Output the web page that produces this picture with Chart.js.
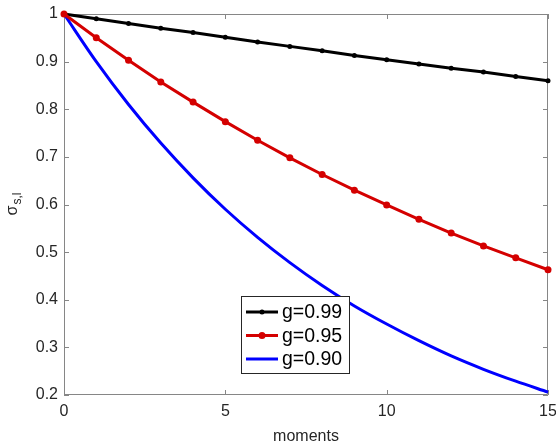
<!DOCTYPE html>
<html>
<head>
<meta charset="utf-8">
<script src="https://cdn.jsdelivr.net/npm/chart.js@4.4.1/dist/chart.umd.min.js"></script>
<style>
  html, body { margin: 0; padding: 0; background: #fff; }
  #wrap { width: 556px; height: 446px; }
</style>
</head>
<body>
<div id="wrap"><canvas id="chart" width="556" height="446"></canvas></div>
<script>
// values
const moments = [0, 1, 2, 3, 4, 5, 6, 7, 8, 9, 10, 11, 12, 13, 14, 15];
const g099 = [1, 0.990, 0.980, 0.970, 0.961, 0.951, 0.941, 0.932, 0.923, 0.913, 0.904, 0.895, 0.886, 0.878, 0.869, 0.860];
const g095 = [1, 0.950, 0.903, 0.857, 0.815, 0.774, 0.735, 0.698, 0.663, 0.630, 0.599, 0.569, 0.540, 0.513, 0.488, 0.463];
const g090 = [1, 0.900, 0.810, 0.729, 0.656, 0.590, 0.531, 0.478, 0.430, 0.387, 0.349, 0.314, 0.282, 0.254, 0.229, 0.206];
const seriesLabels = ["g=0.99", "g=0.95", "g=0.90"];
const xTicks = [0, 5, 10, 15];
const yTicks = [0.2, 0.3, 0.4, 0.5, 0.6, 0.7, 0.8, 0.9, 1];

const FONT = "'Liberation Sans', Arial, Helvetica, sans-serif";
const AXIS = "#868686";

function toPoints(ys) {
  return ys.map((y, i) => ({ x: moments[i], y: y }));
}

// box, inward ticks, y label and legend like the matlab figure
const matlabFrame = {
  id: "matlabFrame",
  beforeDatasetsDraw(chart) {
    const ctx = chart.ctx;
    const a = chart.chartArea;
    const xs = chart.scales.x, ys = chart.scales.y;
    ctx.save();
    ctx.strokeStyle = AXIS;
    ctx.lineWidth = 1;
    ctx.beginPath();
    ctx.rect(a.left + 0.5, a.top + 0.5, a.right - a.left - 1, a.bottom - a.top - 1);
    xTicks.forEach(v => {
      const px = Math.round(xs.getPixelForValue(v)) + 0.5;
      ctx.moveTo(px, a.bottom); ctx.lineTo(px, a.bottom - 5);
      ctx.moveTo(px, a.top); ctx.lineTo(px, a.top + 5);
    });
    yTicks.forEach(v => {
      const py = Math.round(ys.getPixelForValue(v)) + 0.5;
      ctx.moveTo(a.left, py); ctx.lineTo(a.left + 5, py);
      ctx.moveTo(a.right, py); ctx.lineTo(a.right - 5, py);
    });
    ctx.stroke();
    ctx.restore();
  },
  afterDraw(chart) {
    const ctx = chart.ctx;
    const a = chart.chartArea;
    ctx.save();
    // y axis title: sigma with subscript s,l
    ctx.translate(17, (a.top + a.bottom) / 2);
    ctx.rotate(-Math.PI / 2);
    ctx.fillStyle = "#262626";
    ctx.textBaseline = "alphabetic";
    ctx.font = "16px " + FONT;
    ctx.textAlign = "left";
    const sw = ctx.measureText("\u03c3").width;
    ctx.font = "12px " + FONT;
    const subw = ctx.measureText("s,l").width;
    const start = -(sw + subw) / 2;
    ctx.font = "16px " + FONT;
    ctx.fillText("\u03c3", start, 0);
    ctx.font = "12px " + FONT;
    ctx.fillText("s,l", start + sw + 1, 4);
    ctx.restore();

    // legend box
    const lx = 241, ly = 296, lw = 108, lh = 77;
    ctx.save();
    ctx.fillStyle = "#fff";
    ctx.fillRect(lx, ly, lw, lh);
    ctx.strokeStyle = "#262626";
    ctx.lineWidth = 1;
    ctx.strokeRect(lx + 0.5, ly + 0.5, lw, lh);
    chart.data.datasets.forEach((ds, i) => {
      const cy = ly + 16 + i * 23.5;
      ctx.strokeStyle = ds.borderColor;
      ctx.lineWidth = 3;
      ctx.beginPath();
      ctx.moveTo(lx + 5, cy); ctx.lineTo(lx + 37, cy);
      ctx.stroke();
      if (ds.pointRadius > 0) {
        ctx.fillStyle = ds.borderColor;
        ctx.beginPath();
        ctx.arc(lx + 21, cy, ds.pointRadius, 0, Math.PI * 2);
        ctx.fill();
      }
      ctx.fillStyle = "#000";
      ctx.font = "19.5px " + FONT;
      ctx.textBaseline = "middle";
      ctx.textAlign = "left";
      ctx.fillText(ds.label, lx + 41, cy + 1);
    });
    ctx.restore();
  }
};

new Chart(document.getElementById("chart"), {
  type: "line",
  data: {
    datasets: [
      { label: seriesLabels[0], data: toPoints(g099), borderColor: "#000000", backgroundColor: "#000000",
        borderWidth: 3, pointRadius: 2.5, pointBorderWidth: 0, tension: 0, clip: false, order: 2 },
      { label: seriesLabels[1], data: toPoints(g095), borderColor: "#d40000", backgroundColor: "#d40000",
        borderWidth: 3, pointRadius: 3.5, pointBorderWidth: 0, tension: 0, clip: false, order: 0 },
      { label: seriesLabels[2], data: toPoints(g090), borderColor: "#0000ff", backgroundColor: "#0000ff",
        borderWidth: 3, pointRadius: 0, tension: 0.35, cubicInterpolationMode: "monotone", clip: false, order: 1 }
    ]
  },
  options: {
    responsive: false,
    animation: false,
    layout: { padding: { top: 14, right: 0, left: 0, bottom: 0 } },
    plugins: { legend: { display: false }, tooltip: { enabled: false } },
    scales: {
      x: {
        type: "linear", min: 0, max: 15,
        afterBuildTicks: s => { s.ticks = xTicks.map(v => ({ value: v })); },
        afterFit: s => { s.height = 51; s.paddingRight = 8; s.paddingLeft = 0; },
        grid: { display: false, drawTicks: false },
        border: { display: false },
        ticks: { color: "#262626", font: { family: FONT, size: 16 }, padding: 7, maxRotation: 0 },
        title: { display: true, text: "moments", color: "#262626", font: { family: FONT, size: 16 }, padding: { top: 1, bottom: 0 } }
      },
      y: {
        min: 0.2, max: 1,
        afterBuildTicks: s => { s.ticks = yTicks.map(v => ({ value: v })); },
        afterFit: s => { s.width = 64; s.paddingTop = 0; s.paddingBottom = 0; },
        grid: { display: false, drawTicks: false },
        border: { display: false },
        ticks: { color: "#262626", font: { family: FONT, size: 16 }, padding: 6, callback: v => String(+v.toFixed(1)) }
      }
    }
  },
  plugins: [matlabFrame]
});
</script>
</body>
</html>
